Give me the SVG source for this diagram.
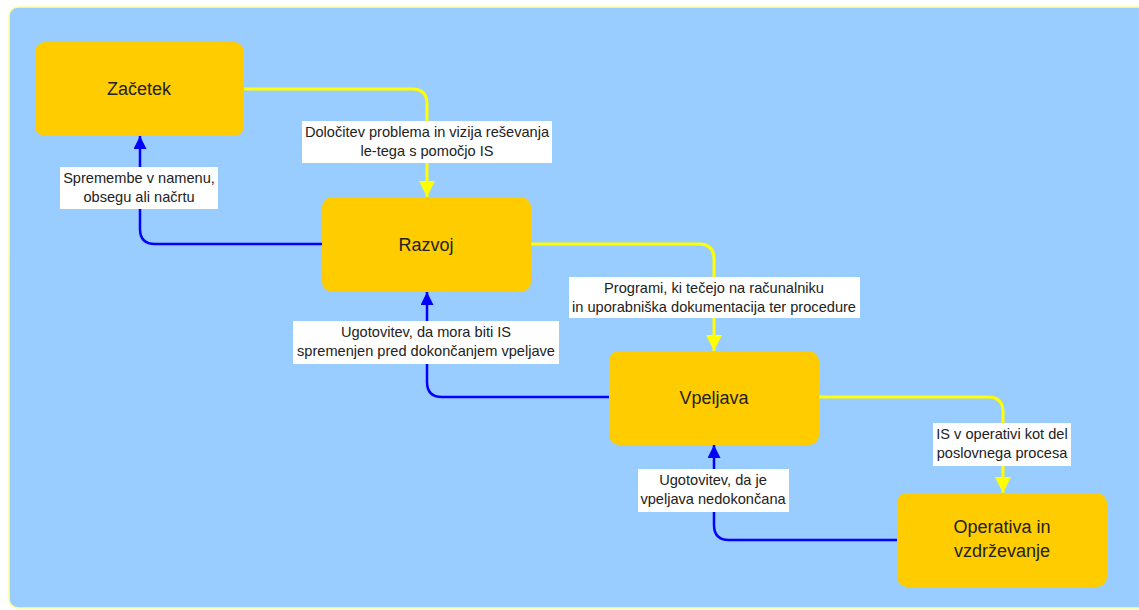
<svg xmlns="http://www.w3.org/2000/svg" width="1139" height="610" viewBox="0 0 1139 610">
  <defs>
    <style>
      .panel { fill: #99CCFF; stroke: #FFFF99; stroke-width: 1.5; }
      .node rect { fill: #FFCC00; }
      .node text { font-family: "Liberation Sans", Arial, sans-serif; font-size: 18px; fill: #222; text-anchor: middle; }
      .fwd { fill: none; stroke: #FFFF00; stroke-width: 3; }
      .back { fill: none; stroke: #0000FF; stroke-width: 2.5; }
      .lbl rect { fill: #FFFFFF; }
      .lbl text { font-family: "Liberation Sans", Arial, sans-serif; font-size: 14.6px; fill: #222; text-anchor: middle; }
    </style>
    <marker id="arrowY" viewBox="0 0 16 16" refX="16" refY="8" markerWidth="16" markerHeight="16" markerUnits="userSpaceOnUse" orient="auto">
      <path d="M0,0 L16,8 L0,16 Z" fill="#FFFF00"/>
    </marker>
    <marker id="arrowB" viewBox="0 0 13 13" refX="13" refY="6.5" markerWidth="13" markerHeight="13" markerUnits="userSpaceOnUse" orient="auto">
      <path d="M0,0 L13,6.5 L0,13 Z" fill="#0000FF"/>
    </marker>
  </defs>

  <rect class="panel" x="9" y="7" width="1150" height="601" rx="9"/>

  <!-- connectors -->
  <g id="connectors">
    <path class="fwd" marker-end="url(#arrowY)" d="M243,89 H412 Q427,89 427,104 V197"/>
    <path class="fwd" marker-end="url(#arrowY)" d="M531,244 H699 Q714,244 714,259 V351"/>
    <path class="fwd" marker-end="url(#arrowY)" d="M819,397 H988 Q1003,397 1003,412 V493"/>
    <path class="back" marker-end="url(#arrowB)" d="M322,244 H155 Q140,244 140,229 V136"/>
    <path class="back" marker-end="url(#arrowB)" d="M609,397 H442 Q427,397 427,382 V292"/>
    <path class="back" marker-end="url(#arrowB)" d="M897,540 H729 Q714,540 714,525 V445"/>
  </g>

  <!-- connector labels -->
  <g id="label-dolocitev" class="lbl">
    <rect x="302" y="121" width="250" height="42"/>
    <text x="427" y="137">Določitev problema in vizija reševanja</text>
    <text x="427" y="156">le-tega s pomočjo IS</text>
  </g>
  <g id="label-spremembe" class="lbl">
    <rect x="60" y="167" width="158" height="42"/>
    <text x="139" y="183">Spremembe v namenu,</text>
    <text x="139" y="202">obsegu ali načrtu</text>
  </g>
  <g id="label-programi" class="lbl">
    <rect x="569" y="277" width="291" height="41"/>
    <text x="714" y="293">Programi, ki tečejo na računalniku</text>
    <text x="714" y="312">in uporabniška dokumentacija ter procedure</text>
  </g>
  <g id="label-ugotovitev-is" class="lbl">
    <rect x="293" y="321" width="266" height="43"/>
    <text x="426" y="337">Ugotovitev, da mora biti IS</text>
    <text x="426" y="356">spremenjen pred dokončanjem vpeljave</text>
  </g>
  <g id="label-operativa" class="lbl">
    <rect x="933" y="423" width="138" height="43"/>
    <text x="1002" y="439">IS v operativi kot del</text>
    <text x="1002" y="458">poslovnega procesa</text>
  </g>
  <g id="label-nedokoncana" class="lbl">
    <rect x="638" y="469" width="151" height="43"/>
    <text x="713" y="485">Ugotovitev, da je</text>
    <text x="713" y="504">vpeljava nedokončana</text>
  </g>

  <!-- nodes -->
  <g id="node-zacetek" class="node">
    <rect x="35" y="42" width="209" height="94" rx="10"/>
    <text x="139" y="95">Začetek</text>
  </g>
  <g id="node-razvoj" class="node">
    <rect x="322" y="197" width="209" height="95" rx="10"/>
    <text x="426" y="251">Razvoj</text>
  </g>
  <g id="node-vpeljava" class="node">
    <rect x="609" y="351" width="210" height="94" rx="10"/>
    <text x="714" y="404">Vpeljava</text>
  </g>
  <g id="node-operativa" class="node">
    <rect x="897" y="493" width="210" height="94" rx="10"/>
    <text x="1002" y="533">Operativa in</text>
    <text x="1002" y="557">vzdrževanje</text>
  </g>
</svg>
